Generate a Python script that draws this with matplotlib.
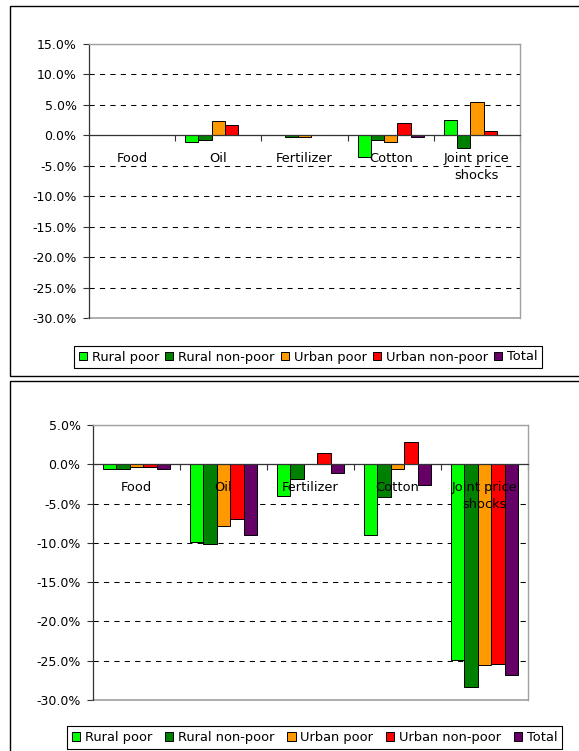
import matplotlib
matplotlib.use("Agg")
import matplotlib.pyplot as plt
import matplotlib.transforms as mtransforms
from matplotlib.patches import Rectangle
from matplotlib.ticker import FuncFormatter, MultipleLocator, FixedLocator, NullFormatter

plt.rcParams["font.family"] = ["DejaVu Sans"]

categories = ["Food", "Oil", "Fertilizer", "Cotton", "Joint price\nshocks"]
series = ["Rural poor", "Rural non-poor", "Urban poor", "Urban non-poor", "Total"]
colors = ["#00FF00", "#008000", "#FF9900", "#FF0000", "#660066"]

# Percentage change by household group, upper panel
top_rural_poor = [0.1, -1.1, 0.0, -3.6, 2.5]
top_rural_nonpoor = [0.0, -0.8, -0.2, -0.7, -2.1]
top_urban_poor = [0.0, 2.3, -0.2, -1.1, 5.4]
top_urban_nonpoor = [0.0, 1.75, 0.1, 2.1, 0.7]
top_total = [0.0, 0.1, 0.0, -0.3, 0.0]

# Percentage change by household group, lower panel
bottom_rural_poor = [-0.6, -9.9, -4.0, -9.0, -24.9]
bottom_rural_nonpoor = [-0.6, -10.1, -1.9, -4.2, -28.3]
bottom_urban_poor = [-0.35, -7.8, 0.0, -0.6, -25.6]
bottom_urban_nonpoor = [-0.4, -7.0, 1.4, 2.9, -25.4]
bottom_total = [-0.6, -9.0, -1.1, -2.6, -26.8]

top_values = [top_rural_poor, top_rural_nonpoor, top_urban_poor, top_urban_nonpoor, top_total]
bottom_values = [bottom_rural_poor, bottom_rural_nonpoor, bottom_urban_poor,
                 bottom_urban_nonpoor, bottom_total]

W, H = 579, 751
fig = plt.figure(figsize=(W / 100, H / 100), dpi=100)


def fig_rect(x0, y0, x1, y1):
    """Pixel box (top-left origin) -> figure fraction [left, bottom, width, height]."""
    return [x0 / W, 1 - y1 / H, (x1 - x0) / W, (y1 - y0) / H]


def draw_panel(ax, values, ymin, ymax):
    n = len(series)
    width = 0.154
    for i, (name, vals, c) in enumerate(zip(series, values, colors)):
        xs = [k + (i - (n - 1) / 2) * width for k in range(len(categories))]
        ax.bar(xs, vals, width=width, color=c, edgecolor="black",
               linewidth=0.7, label=name, zorder=2)
    ax.set_xlim(-0.5, len(categories) - 0.5)
    ax.set_ylim(ymin, ymax)

    ax.yaxis.set_major_locator(MultipleLocator(5))
    ax.yaxis.set_major_formatter(FuncFormatter(lambda v, p: f"{v:.1f}%"))
    ax.tick_params(axis="y", direction="out", length=4, width=0.8,
                   color="#333333", labelsize=9, pad=5)
    ax.yaxis.grid(True, color="black", linestyle=(0, (5, 5)), linewidth=0.75)
    ax.set_axisbelow(True)

    # category axis sits on the zero line, with ticks between groups
    ax.spines["bottom"].set_position(("data", 0))
    ax.spines["bottom"].set_color("#333333")
    ax.spines["bottom"].set_linewidth(0.9)
    ax.spines["bottom"].set_zorder(3)
    ax.xaxis.set_major_locator(FixedLocator([k + 0.5 for k in range(len(categories))]))
    ax.xaxis.set_major_formatter(NullFormatter())
    ax.tick_params(axis="x", direction="out", length=4, width=0.8, color="#333333")

    ax.spines["left"].set_color("#333333")
    ax.spines["left"].set_linewidth(0.9)
    for side in ("top", "right"):
        ax.spines[side].set_color("#a0a0a0")
        ax.spines[side].set_linewidth(1.0)
    ax.axhline(ymin, color="#a0a0a0", linewidth=1.2, zorder=1, clip_on=False)

    label_tr = mtransforms.offset_copy(ax.transData, fig=fig, x=0, y=-17, units="dots")
    for k, cat in enumerate(categories):
        ax.text(k, 0, cat, transform=label_tr, ha="center", va="top",
                multialignment="center", fontsize=9.4, linespacing=1.35, zorder=5)


def add_legend(ax, box):
    x0, y0, x1, y1 = box
    ax.legend(loc="center", bbox_to_anchor=(x0 / W, 1 - y1 / H, (x1 - x0) / W, (y1 - y0) / H),
              bbox_transform=fig.transFigure, mode="expand", ncol=5,
              fontsize=9.4, frameon=True, fancybox=False, framealpha=1,
              edgecolor="black", handlelength=0.65, handleheight=0.65,
              handletextpad=0.35, columnspacing=0.5, borderpad=0.35,
              borderaxespad=0)
    ax.get_legend().get_frame().set_linewidth(0.8)


# outer frames around each chart
fig.add_artist(Rectangle((10 / W, 1 - 376 / H), 600 / W, 370 / H, transform=fig.transFigure,
                         fill=False, edgecolor="black", linewidth=1.0))
fig.add_artist(Rectangle((10 / W, 1 - 800 / H), 600 / W, 419 / H, transform=fig.transFigure,
                         fill=False, edgecolor="black", linewidth=1.0))

ax1 = fig.add_axes(fig_rect(89, 44, 520, 318))
draw_panel(ax1, top_values, -30, 15)
add_legend(ax1, (74, 343, 542, 371))

ax2 = fig.add_axes(fig_rect(93, 425, 528, 700))
draw_panel(ax2, bottom_values, -30, 5)
add_legend(ax2, (67, 723, 562, 752))

fig.savefig("out.png", dpi=100)
